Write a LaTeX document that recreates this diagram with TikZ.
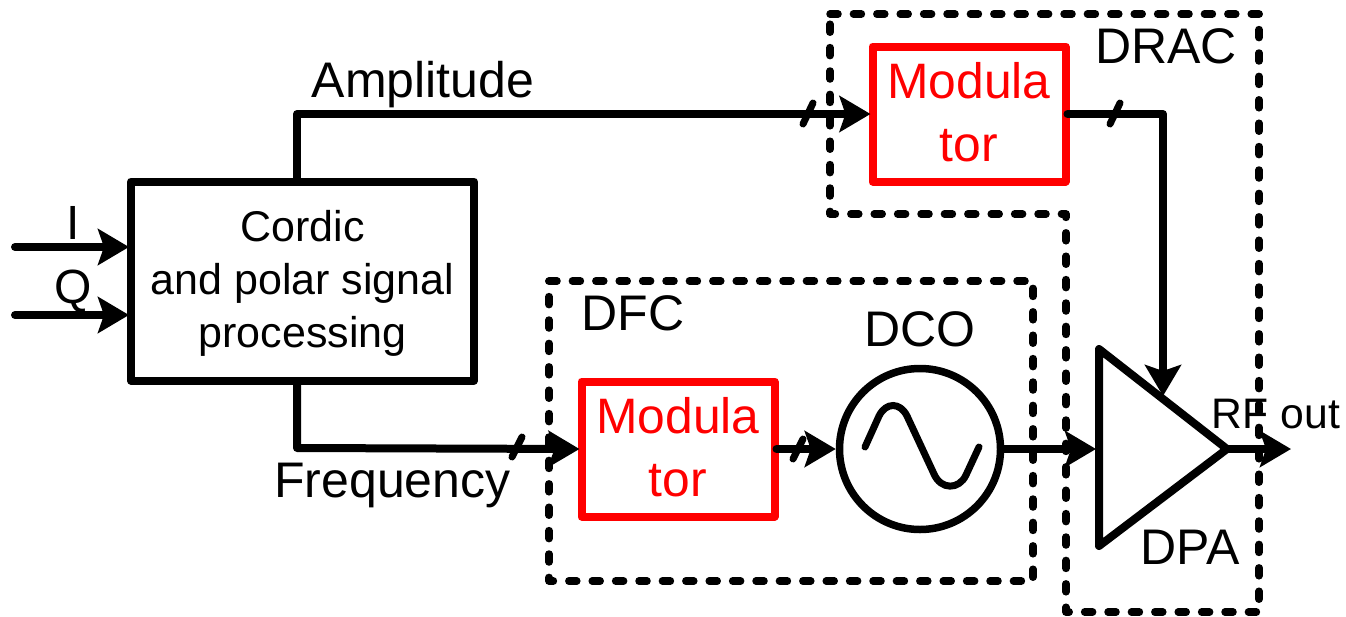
\documentclass[tikz,border=0pt]{standalone}
\usepackage{fontspec}
\setmainfont{Liberation Sans}
\usetikzlibrary{arrows.meta}
\newcommand{\fs}[2]{\fontsize{#1}{#2}\selectfont}
\tikzset{
  wire/.style={line width=8pt,line join=round,line cap=round,black},
  arrowwire/.style={wire,-{Stealth[length=31pt,width=36pt,inset=6pt]}},
  ticker/.style={line width=7pt,line cap=round,black},
  region/.style={line width=7.5pt,line cap=round,line join=round,black,dash pattern=on 8pt off 15.4pt},
  blockbox/.style={draw=black,line width=8pt,line join=round,inner sep=0pt,outer sep=2pt,align=center,fill=none},
  modbox/.style={draw=red,text=red,line width=8pt,line join=round,inner sep=0pt,outer sep=2pt,align=center,minimum width=193pt,minimum height=135pt,font=\fs{49.8}{63},text depth=5pt},
  lab/.style={inner sep=0pt,anchor=base,font=\fs{50}{50}},
}
\begin{document}
\begin{tikzpicture}[x=1pt,y=-1pt]
\useasboundingbox[fill=white] (0,0) rectangle (1346,616);
% regions
\draw[region] (830,14) -- (1259,14) -- (1259,612) -- (1066,612) -- (1066,214) -- (830,214) -- cycle;
\draw[region] (549,281) -- (1033,281) -- (1033,581) -- (549,581) -- cycle;
% blocks
\node[blockbox,minimum width=343pt,minimum height=199pt,font=\fs{43}{53}] (cordic) at (302.5,281) {\rule{0pt}{36pt}Cordic\\and polar signal\\processing};
\node[modbox] (modtop) at (969,114) {Modula\\tor};
\node[modbox] (modbot) at (678,449) {Modula\\tor};
\node[draw=black,line width=7.5pt,circle,minimum size=161pt,inner sep=0pt] (dco) at (920,449) {};
\draw[wire] (1099,349) coordinate (dpatop) -- (1227,449) coordinate (dpaout) -- (1099,546) coordinate (dpabot) -- cycle;
\coordinate (dpain) at (1096,449);
% sine
\draw[line width=7pt,line cap=round,black] (865,447) -- (879,416) .. controls (886,402) and (900,402) .. (907,416) -- (934,474) .. controls (941,490) and (959,490) .. (966,475) -- (979,447);
% free ends and bends
\coordinate (iin) at (15,247);
\coordinate (qin) at (15,315);
\coordinate (ampbend) at (297,114);
\coordinate (freqbend) at (297,448);
\coordinate (outbend) at (1163,114);
\coordinate (dpafb) at (1163,396);
\coordinate (rfout) at (1291,449);
% connectors
\draw[arrowwire] (iin) -- (cordic.west |- iin);
\draw[arrowwire] (qin) -- (cordic.west |- qin);
\draw[arrowwire] (cordic.north -| ampbend) -- (ampbend) -- (modtop.west);
\draw[arrowwire] (cordic.south -| freqbend) -- (freqbend) -- (modbot.west);
\draw[arrowwire] (modbot.east) -- (dco.west);
\draw[arrowwire] (modtop.east) -- (outbend) -- (dpafb);
\draw[arrowwire] (dco.east) -- (dpain);
\draw[arrowwire] (dpaout) -- (rfout);
% bus ticks
\draw[ticker] (803,124) -- (813,103);
\draw[ticker] (1110,124) -- (1120,103);
\draw[ticker] (512,457) -- (522,437);
\draw[ticker] (793,459) -- (803,439);
% labels
\node[lab] (amp) at (423,97) {Amplitude};
\node[lab] (freq) at (392.5,497) {Frequency};
\node[lab,font=\fs{48}{48}] (ilab) at (73,239) {I};
\node[lab,font=\fs{48}{48}] (qlab) at (73,303) {Q};
\node[lab] (drac) at (1166,63) {DRAC};
\node[lab] (dfc) at (633,330) {DFC};
\node[lab] (dcolab) at (920,346) {DCO};
\node[lab] (dpalab) at (1190,564) {DPA};
\node[lab,font=\fs{42.7}{44}] (rf) at (1276,428) {RF out};
\end{tikzpicture}
\end{document}
